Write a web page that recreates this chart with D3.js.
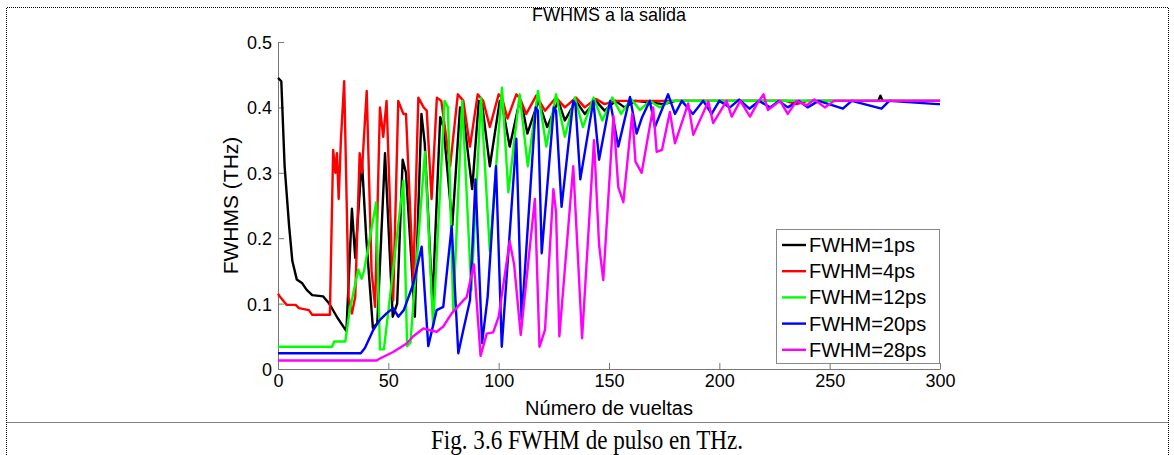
<!DOCTYPE html>
<html>
<head>
<meta charset="utf-8">
<script src="https://cdn.jsdelivr.net/npm/d3@7"></script>
<style>
  body { margin: 0; background: #fff; }
  svg { display: block; }
</style>
</head>
<body>
<script>
document.addEventListener('DOMContentLoaded', init);

// [vuelta, FWHM (THz)] at the turning points
let fwhm1ps = [
    [0,0.445],[1.5,0.44],[3,0.31],[5,0.22],[6.5,0.165],[8.5,0.137],[11,0.131],[13,0.121],
    [15.5,0.113],[20.5,0.111],[23,0.101],[27,0.078],[31,0.058],[33.5,0.245],[35,0.17],
    [38,0.32],[40,0.2],[43,0.063],[45,0.07],[48.5,0.33],[52,0.08],[54,0.1],[56.5,0.32],
    [58,0.3],[62,0.08],[65,0.39],[66.5,0.345],[70,0.10],[73.5,0.385],[75,0.37],[79,0.22],
    [82.5,0.40],[84,0.39],[88,0.275],[91,0.41],[92.5,0.405],[96,0.31],[100.5,0.41],[101.5,0.405],
    [105,0.34],[109.5,0.41],[110.5,0.405],[113,0.36],[118,0.41],[122,0.37],[127,0.41],[130,0.38],
    [135,0.41],[139,0.39],[144,0.41],[148,0.395],[153,0.41],[157,0.40],[162,0.41],[175,0.405],
    [180,0.41],[272,0.41],[273,0.418],[274,0.41],[300,0.41]
];
let fwhm4ps = [
    [0,0.115],[1,0.11],[4,0.098],[8,0.098],[9.5,0.093],[14,0.09],[15.5,0.083],[23.5,0.083],
    [25,0.335],[26,0.30],[26.7,0.33],[27.5,0.26],[28.5,0.35],[30,0.44],[32,0.11],[33.5,0.085],
    [35,0.11],[37,0.33],[38,0.30],[40.2,0.425],[42.4,0.15],[44,0.095],[46.2,0.40],[47.7,0.355],
    [49.2,0.41],[52.2,0.105],[54.5,0.41],[56.8,0.39],[58,0.39],[61.3,0.135],[63.6,0.415],
    [66,0.40],[67.4,0.395],[69.6,0.26],[72,0.415],[74,0.41],[78,0.31],[81.5,0.42],[84,0.41],
    [87,0.34],[90.5,0.42],[93,0.41],[96,0.37],[100,0.42],[101.5,0.415],[104,0.383],[108,0.42],
    [109.5,0.415],[112.5,0.39],[117,0.418],[121,0.395],[126,0.415],[130,0.40],[135,0.415],
    [139,0.40],[144,0.413],[148,0.405],[153,0.41],[230,0.41],[235,0.405],[240,0.41],[300,0.41]
];
let fwhm12ps = [
    [0,0.034],[24.5,0.034],[25.5,0.042],[30.5,0.042],[32.5,0.09],[36.4,0.152],[37.9,0.138],
    [39,0.15],[44.5,0.255],[46.2,0.03],[48,0.03],[56.8,0.288],[58.5,0.035],[60,0.04],
    [66.6,0.332],[70.3,0.065],[75.5,0.41],[77,0.40],[79.4,0.09],[83.5,0.41],[87.6,0.12],
    [92,0.415],[96,0.18],[101.5,0.43],[104.4,0.27],[109.5,0.42],[113.2,0.31],[117.8,0.425],
    [121.6,0.34],[126,0.42],[130,0.355],[134.5,0.415],[138.2,0.37],[143,0.415],[147,0.38],
    [151.5,0.415],[155.5,0.39],[160,0.413],[164,0.396],[168.5,0.41],[173,0.40],[178,0.41],
    [300,0.41]
];
let fwhm20ps = [
    [0,0.024],[37.5,0.024],[39.4,0.032],[43.2,0.06],[46.2,0.075],[49.2,0.085],[52.2,0.093],
    [54.5,0.08],[57,0.09],[61.3,0.13],[65.1,0.187],[68.1,0.035],[71.9,0.09],[74.9,0.095],
    [78.7,0.218],[81.7,0.024],[84,0.06],[87,0.105],[89.5,0.29],[92.5,0.04],[95,0.11],
    [98.8,0.31],[101.4,0.034],[108,0.352],[110.4,0.075],[116.8,0.40],[117.8,0.395],[119.5,0.177],
    [125,0.40],[126,0.395],[128.5,0.248],[133.8,0.41],[134.8,0.405],[137,0.29],[142.9,0.41],
    [145.5,0.32],[150.5,0.41],[154.2,0.34],[159.5,0.416],[162.5,0.36],[165,0.385],[168.5,0.41],
    [170.8,0.37],[176.8,0.42],[179.9,0.39],[183,0.41],[188,0.39],[192.7,0.41],[196.5,0.39],
    [200,0.41],[204.8,0.40],[209,0.412],[213.6,0.398],[218,0.41],[223,0.40],[227,0.41],
    [231,0.40],[236,0.41],[240,0.40],[245,0.41],[256,0.398],[260,0.41],[273.5,0.398],[277,0.41],
    [299,0.405],[300,0.405]
];
let fwhm28ps = [
    [0,0.013],[44.7,0.013],[46.2,0.016],[52.2,0.026],[58.3,0.039],[61.3,0.05],[65.9,0.062],
    [68,0.06],[71.9,0.057],[74.9,0.065],[78.7,0.085],[84,0.105],[85.5,0.11],[88.8,0.16],
    [91.8,0.02],[94.6,0.054],[97.5,0.056],[100,0.08],[105,0.195],[107,0.16],[110,0.052],
    [116.4,0.26],[118.5,0.034],[121,0.06],[124.8,0.275],[126,0.24],[127.5,0.05],[133.8,0.31],
    [137.8,0.047],[143.2,0.35],[145.5,0.19],[147.4,0.136],[152,0.387],[154.2,0.278],
    [156.5,0.255],[160.5,0.39],[162,0.317],[164.8,0.30],[170,0.40],[171.6,0.332],[174,0.335],
    [177.6,0.393],[179.9,0.345],[185.9,0.406],[188.2,0.358],[195,0.409],[197.2,0.376],
    [203.3,0.41],[205.6,0.386],[209.5,0.41],[213.9,0.386],[217,0.405],[220,0.42],[222,0.396],
    [227.5,0.41],[231,0.39],[235,0.41],[239.5,0.403],[243,0.412],[247.8,0.40],[252,0.41],
    [300,0.41]
];

let seriesNames = ["FWHM=1ps", "FWHM=4ps", "FWHM=12ps", "FWHM=20ps", "FWHM=28ps"];
let seriesColors = ["#000000", "#ff0000", "#00ff00", "#0000ff", "#ff00ff"];
let xTicks = [0, 50, 100, 150, 200, 250, 300];
let yTicks = [0, 0.1, 0.2, 0.3, 0.4, 0.5];

function init() {
    let allSeries = [fwhm1ps, fwhm4ps, fwhm12ps, fwhm20ps, fwhm28ps];
    let width = 1174;
    let height = 455;
    let left = 278, right = 940, top = 42, bottom = 369;

    let svg = d3.select("body")
        .append("svg")
        .attr("width", width)
        .attr("height", height);

    // dotted frame of the figure
    let frame = svg.append("g")
        .attr("stroke", "#000")
        .attr("stroke-width", 1)
        .attr("stroke-dasharray", "1,1")
        .attr("fill", "none");
    frame.append("path").attr("d", "M6.5,455 V7.5 H1168.5 V455");
    frame.append("path").attr("d", "M6.5,422.5 H1168.5");

    let xScale = d3.scaleLinear()
        .domain([0, 300])
        .range([left, right]);

    let yScale = d3.scaleLinear()
        .domain([0, 0.5])
        .range([bottom, top]);

    // axes, ticks inside like matlab
    let xAxis = svg.append("g")
        .attr("transform", "translate(0," + bottom + ")")
        .call(d3.axisBottom(xScale).tickValues(xTicks).tickSizeInner(-6).tickSizeOuter(0).tickPadding(5));
    let yAxis = svg.append("g")
        .attr("transform", "translate(" + left + ",0)")
        .call(d3.axisLeft(yScale).tickValues(yTicks).tickSizeInner(-6).tickSizeOuter(0).tickPadding(6)
            .tickFormat((d) => d === 0 ? "0" : d3.format(".1f")(d)));

    [xAxis, yAxis].forEach((a) => {
        a.select(".domain").attr("stroke", "#777");
        a.selectAll(".tick line").attr("stroke", "#777");
        a.selectAll(".tick text")
            .attr("fill", "#000")
            .attr("font-family", "Liberation Sans, Arial, sans-serif")
            .attr("font-size", "18px");
    });
    xAxis.selectAll(".tick text").attr("dy", "0.72em");
    yAxis.selectAll(".tick text").attr("dy", "0.36em");

    // the curves
    let line = d3.line()
        .x((d) => xScale(d[0]))
        .y((d) => yScale(d[1]));

    svg.append("g")
        .selectAll("path")
        .data(allSeries)
        .enter()
        .append("path")
        .attr("d", (d) => line(d))
        .attr("fill", "none")
        .attr("stroke", (d, i) => seriesColors[i])
        .attr("stroke-width", 2.4)
        .attr("stroke-linejoin", "round");

    // titles
    svg.append("text")
        .text("FWHMS a la salida")
        .attr("x", (left + right) / 2)
        .attr("y", 21)
        .attr("text-anchor", "middle")
        .attr("font-family", "Liberation Sans, Arial, sans-serif")
        .attr("font-size", "18px");

    svg.append("text")
        .text("Número de vueltas")
        .attr("x", (left + right) / 2)
        .attr("y", 415)
        .attr("text-anchor", "middle")
        .attr("font-family", "Liberation Sans, Arial, sans-serif")
        .attr("font-size", "20px");

    svg.append("text")
        .text("FWHMS (THz)")
        .attr("transform", "translate(238," + ((top + bottom) / 2) + ") rotate(-90)")
        .attr("text-anchor", "middle")
        .attr("font-family", "Liberation Sans, Arial, sans-serif")
        .attr("font-size", "21px");

    // legend
    let legend = svg.append("g");
    legend.append("rect")
        .attr("x", 776.5)
        .attr("y", 229.5)
        .attr("width", 163)
        .attr("height", 134)
        .attr("fill", "#fff")
        .attr("stroke", "#888");

    let rows = legend.selectAll("g.row")
        .data(seriesNames)
        .enter()
        .append("g")
        .attr("class", "row")
        .attr("transform", (d, i) => "translate(0," + (245 + i * 26.2) + ")");
    rows.append("line")
        .attr("x1", 782).attr("x2", 806)
        .attr("y1", 0).attr("y2", 0)
        .attr("stroke", (d, i) => seriesColors[i])
        .attr("stroke-width", 2.4);
    rows.append("text")
        .text((d) => d)
        .attr("x", 809)
        .attr("y", 7)
        .attr("font-family", "Liberation Sans, Arial, sans-serif")
        .attr("font-size", "20px");

    // caption under the figure
    svg.append("text")
        .text("Fig. 3.6 FWHM de pulso en THz.")
        .attr("x", 587)
        .attr("y", 449)
        .attr("text-anchor", "middle")
        .attr("textLength", 312)
        .attr("lengthAdjust", "spacingAndGlyphs")
        .attr("font-family", "Liberation Serif, Times New Roman, serif")
        .attr("font-size", "27px");
}
</script>
</body>
</html>
